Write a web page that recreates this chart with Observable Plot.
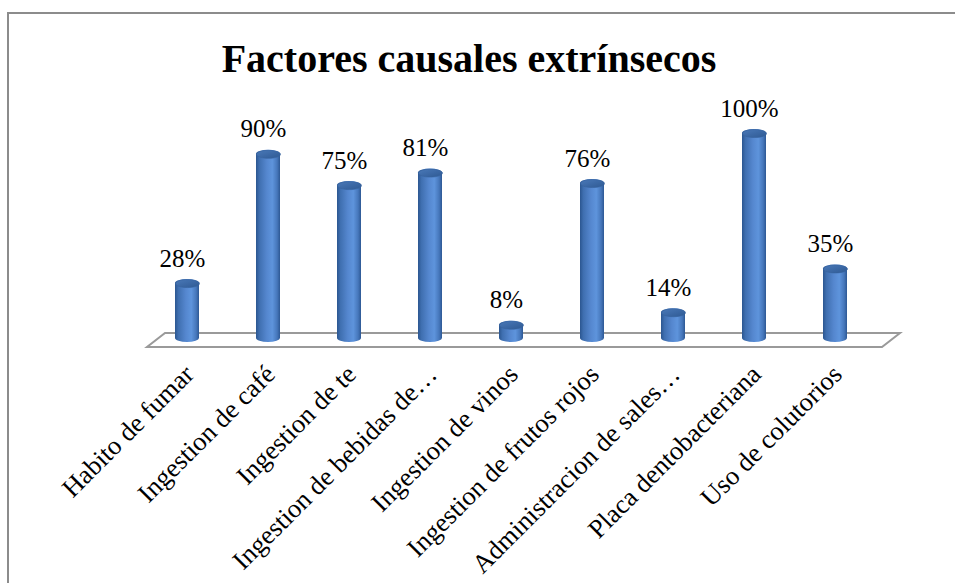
<!DOCTYPE html>
<html>
<head>
<meta charset="utf-8">
<script src="https://cdn.jsdelivr.net/npm/d3@7"></script>
<script src="https://cdn.jsdelivr.net/npm/@observablehq/plot@0.6"></script>
<style>
  html, body { margin: 0; padding: 0; background: #fff; font-family: "Liberation Serif", serif; }
  #chart { position: relative; width: 955px; height: 583px; overflow: hidden; background: #fff; }
  #frame { position: absolute; left: 7px; top: 12px; width: 1200px; height: 1200px;
           border-left: 2px solid #8c8c8c; border-top: 2px solid #8c8c8c; }
  #title { position: absolute; left: 0; top: 39px; width: 938px; text-align: center;
           font-family: "Liberation Serif", serif; font-weight: bold;
           font-size: 40px; line-height: 40px; color: #000; }
  #plot { position: absolute; left: 0; top: 0; }
</style>
</head>
<body>
<div id="chart">
  <div id="frame"></div>
  <div id="plot"></div>
  <div id="title">Factores causales extrínsecos</div>
</div>
<script>
// Extrinsic causal factors (percent of cases)
const categories = [
  "Habito de fumar",
  "Ingestion de café",
  "Ingestion de te",
  "Ingestion de bebidas de…",
  "Ingestion de vinos",
  "Ingestion de frutos rojos",
  "Administracion de sales…",
  "Placa dentobacteriana",
  "Uso de colutorios"
];
const values = [28, 90, 75, 81, 8, 76, 14, 100, 35];
const valueLabels = values.map(v => v + "%");

const data = categories.map((cat, i) => ({cat, value: values[i], label: valueLabels[i]}));

const serif = "'Liberation Serif', serif";

// Elliptical cap drawn on top of every cylinder
const capSymbol = {
  draw(context) {
    const rx = 12, ry = 4, k = 0.5523;
    context.moveTo(-rx, 0);
    context.bezierCurveTo(-rx, -ry * k, -rx * k, -ry, 0, -ry);
    context.bezierCurveTo(rx * k, -ry, rx, -ry * k, rx, 0);
    context.bezierCurveTo(rx, ry * k, rx * k, ry, 0, ry);
    context.bezierCurveTo(-rx * k, ry, -rx, ry * k, -rx, 0);
    context.closePath();
  }
};

const plot = Plot.plot({
  width: 955,
  height: 583,
  marginLeft: 132,
  marginRight: 65,
  marginTop: 133,
  marginBottom: 241.6,
  style: {background: "transparent", fontFamily: serif},
  x: {domain: categories, paddingInner: 0.706, paddingOuter: 0.5, axis: null},
  y: {domain: [0, 100], axis: null},
  marks: [
    // cylinder bodies
    Plot.barY(data, {
      x: "cat", y: "value",
      fill: "url(#cylBody)",
      rx: 12, ry: 4,
      insetTop: -4, insetBottom: -0.6
    }),
    // cylinder tops
    Plot.dot(data, {
      x: "cat", y: "value",
      symbol: capSymbol,
      fill: "url(#cylCap)",
      stroke: "#35619c", strokeWidth: 0.6
    }),
    // value labels
    Plot.text(data, {
      x: "cat", y: "value", text: "label",
      lineAnchor: "bottom", dx: -5, dy: -17,
      fontSize: 25, fontFamily: serif, fill: "#000"
    }),
    // category labels, rotated
    Plot.text(data, {
      x: "cat", frameAnchor: "bottom", text: "cat",
      rotate: -45, textAnchor: "end", lineAnchor: "middle",
      dx: 2, dy: 28,
      fontSize: 26.5, fontFamily: serif, fill: "#000"
    })
  ]
});

// Gradients for the cylinder shading
const svg = d3.select(plot);
const defs = svg.insert("defs", ":first-child");
const body = defs.append("linearGradient").attr("id", "cylBody")
  .attr("x1", "0").attr("x2", "1").attr("y1", "0").attr("y2", "0");
[[0, "#2b5690"], [0.14, "#3f6fb0"], [0.45, "#5587cf"], [0.68, "#5e94dc"],
 [0.88, "#4677bb"], [1, "#2d5894"]].forEach(([o, c]) =>
  body.append("stop").attr("offset", o).attr("stop-color", c));
const cap = defs.append("linearGradient").attr("id", "cylCap")
  .attr("x1", "0").attr("x2", "1").attr("y1", "0").attr("y2", "1");
[[0, "#4a79b8"], [0.5, "#3c69a6"], [1, "#2f5a93"]].forEach(([o, c]) =>
  cap.append("stop").attr("offset", o).attr("stop-color", c));

// Floor of the 3-D plot area, derived from the scales
const xs = plot.scale("x");
const [x0, x1] = xs.range;
const y0 = plot.scale("y").apply(0);
const floor = [
  [x0 + 33, y0 - 8.4],
  [x1 + 10, y0 - 8.4],
  [x1 - 8, y0 + 5.6],
  [x0 + 15, y0 + 5.6]
];
svg.insert("polygon", "g")
  .attr("points", floor.map(p => p.join(",")).join(" "))
  .attr("fill", "#ffffff")
  .attr("stroke", "#9a9a9a")
  .attr("stroke-width", 2)
  .attr("stroke-linejoin", "miter");

document.getElementById("plot").appendChild(plot);
</script>
</body>
</html>
